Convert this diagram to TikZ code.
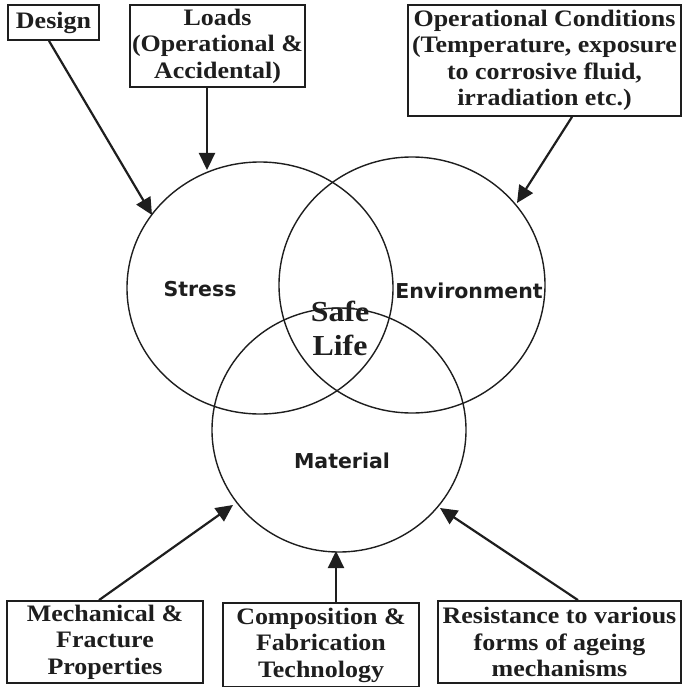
\documentclass[tikz,border=0pt]{standalone}
\usepackage{fontspec}
\setmainfont{Liberation Serif}
\newfontfamily\boxfont[FakeStretch=1.1]{Liberation Serif}
\newfontfamily\labfont{DejaVu Sans}
\usetikzlibrary{arrows.meta,calc}
\definecolor{ink}{HTML}{1E1E1E}
\tikzset{
  boxstyle/.style={draw=ink, line width=1.8pt, fill=white, align=center, inner sep=0pt, text=ink,
    font=\boxfont\bfseries\fontsize{23.6}{26.5}\selectfont},
  circ/.style={draw=ink, line width=1.4pt},
  lab/.style={inner sep=0pt, text=ink, font=\labfont\bfseries\fontsize{20.5}{22}\selectfont},
  safelab/.style={inner sep=0pt, text=ink, align=center, font=\boxfont\bfseries\fontsize{29}{34}\selectfont},
  arr/.style={draw=ink, line width=2.2pt, -{Triangle[length=17pt, width=16pt]}}
}
\begin{document}
\begin{tikzpicture}[x=1pt, y=-1pt]
\useasboundingbox (0,0) rectangle (683,687);
% circles
\draw[circ] (260,288) ellipse [x radius=133, y radius=126];
\draw[circ] (412,285) ellipse [x radius=133, y radius=128];
\draw[circ] (339,430) ellipse [x radius=127, y radius=122];
% labels
\node[lab] (lstress) at (200,289) {Stress};
\node[lab] (lenv) at (469,291) {Environment};
\node[lab] (lmat) at (342,461) {Material};
\node[safelab] (safe) at (340,328) {Safe\\Life};
% boxes
\node[boxstyle, minimum width=91pt, minimum height=35pt] (design) at (53.5,22.5) {Design};
\node[boxstyle, minimum width=175pt, minimum height=82pt] (loads) at (217.5,46) {Loads\\(Operational \&\\Accidental)};
\node[boxstyle, minimum width=273pt, minimum height=111pt] (oper) at (544.5,60.5) {Operational Conditions\\(Temperature, exposure\\to corrosive fluid,\\irradiation etc.)};
\node[boxstyle, minimum width=196pt, minimum height=82pt] (mech) at (105,642) {Mechanical \&\\Fracture\\Properties};
\node[boxstyle, minimum width=196pt, minimum height=84pt] (comp) at (321,645) {Composition \&\\Fabrication\\Technology};
\node[boxstyle, minimum width=243pt, minimum height=82pt] (resist) at (559.5,642) {Resistance to various\\forms of ageing\\mechanisms};
% arrow tips
\coordinate (tdesign) at (152,215);
\coordinate (tloads) at (207,170);
\coordinate (toper) at (517,203);
\coordinate (tmech) at (233,505);
\coordinate (tcomp) at (336,551);
\coordinate (tresist) at (440,508);
% arrows
\draw[arr] ([xshift=-4.5pt]design.south) -- (tdesign);
\draw[arr] ([xshift=-10.5pt]loads.south) -- (tloads);
\draw[arr] ([xshift=27.5pt]oper.south) -- (toper);
\draw[arr] ([xshift=-6pt]mech.north) -- (tmech);
\draw[arr] ([xshift=15pt]comp.north) -- (tcomp);
\draw[arr] ([xshift=18.5pt]resist.north) -- (tresist);
\end{tikzpicture}
\end{document}
